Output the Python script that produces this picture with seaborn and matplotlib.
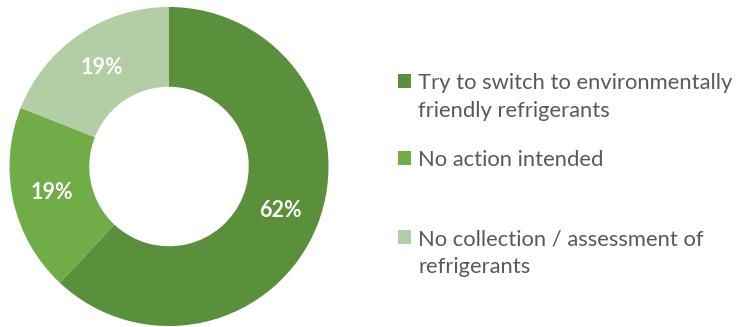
import matplotlib
matplotlib.use("Agg")
import matplotlib.pyplot as plt
import seaborn as sns

categories = ["Try to switch to environmentally\nfriendly refrigerants",
              "No action intended",
              "No collection / assessment of\nrefrigerants"]
values = [62, 19, 19]
colors = ["#5A8F3B", "#70AD47", "#B3CDA5"]

sns.set_theme(style="white")
plt.rcParams['font.family'] = ['Lato', 'DejaVu Sans']

W, H = 736, 327
fig = plt.figure(figsize=(W / 100, H / 100), dpi=100)
ax = fig.add_axes([9/W, 1-326/H, 320/W, 319/H])

wedges, texts, autotexts = ax.pie(
    values, colors=colors, startangle=90, counterclock=False,
    autopct=lambda p: f"{p:.0f}%", pctdistance=0.75,
    wedgeprops=dict(width=0.5, edgecolor="none"),
    textprops=dict(color="white", fontsize=15.5, fontweight="bold"))
ax.set_xlim(-1, 1)
ax.set_ylim(-1, 1)
ax.set_aspect("equal")
ax.axis("off")

marker_y = [83, 160, 239]
for w, lab, y in zip(wedges, categories, marker_y):
    lines = lab.split("\n")
    leg = fig.legend([w], [lines[0]], loc="center left",
                     bbox_to_anchor=(398/W, 1 - y/H),
                     frameon=False, fontsize=15.8, handlelength=0.6,
                     handleheight=0.6, handletextpad=0.33, borderpad=0,
                     borderaxespad=0)
    for t in leg.get_texts():
        t.set_color("#595959")
    for k, extra in enumerate(lines[1:], start=1):
        fig.text(418/W, 1 - (y + 7 + 27 * k)/H, extra, color="#595959",
                 fontsize=15.8, va="baseline", ha="left")

fig.savefig("out.png", dpi=100)
